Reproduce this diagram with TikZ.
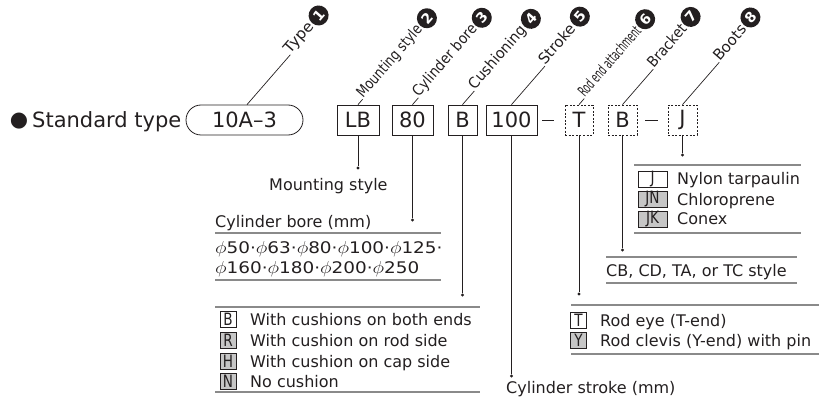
\documentclass[tikz,border=0pt]{standalone}
\usepackage{fontspec}
\setmainfont{DejaVu Sans}
\usepackage{graphicx}
\usetikzlibrary{calc}

\definecolor{ink}{HTML}{231F20}
\definecolor{rulegray}{HTML}{8A8A8A}
\definecolor{optfill}{HTML}{C6C6C6}

\tikzset{
  code/.style={draw=ink, line width=0.8pt, minimum height=30pt, inner sep=0,
               font=\fontsize{21}{21}\selectfont, text=ink},
  codeopt/.style={code, dash pattern=on 2pt off 1.6pt},
  leader/.style={draw=ink, line width=0.7pt},
  seprule/.style={draw=rulegray, line width=1.3pt},
  dot/.style={circle, fill=ink, inner sep=0, minimum size=3.4pt},
  desc/.style={font=\fontsize{16}{16}\selectfont, text=ink, inner sep=0},
  tag/.style={font=\fontsize{15}{15}\selectfont, text=ink, inner sep=0.6pt},
  num/.style={circle, fill=ink, text=white, inner sep=0, minimum size=20pt,
              font=\fontsize{14}{14}\selectfont\bfseries},
  key/.style={draw=ink, line width=0.6pt, inner sep=0, minimum height=16pt,
              minimum width=16pt, font=\fontsize{17}{17}\selectfont, text=ink},
  keyopt/.style={key, fill=optfill},
}

% condensed letters inside the small option keys
\newcommand\keytext[1]{\scalebox{0.8}[1]{#1}}

% slanted call-out: leader from a code box, rotated caption, numbered disc
% #1 start, #2 leader length, #3 caption, #4 number, #5 name, #6 caption width factor
\newcommand\callout[6]{%
  \path (#1) ++(49:#2) coordinate (#5-s);
  \draw[leader] (#1) -- (#5-s);
  \node[tag, rotate=49, anchor=base west] (#5-t) at (#5-s) {\scalebox{#6}[1]{#3}};
  \node[num, rotate=49, anchor=west] (#5-n) at ([yshift=0.8pt]#5-t.east) {#4};
}

\begin{document}
\begin{tikzpicture}[x=1pt, y=-1pt]
\useasboundingbox (0,0) rectangle (828,401);

% heading
\node[inner sep=0, font=\fontsize{21}{21}\selectfont, text=ink] (bul) at (19,121.5) {●};
\node[inner sep=0, anchor=base west, font=\fontsize{21}{21}\selectfont, text=ink] (head) at (32,128) {Standard type};

% model code
\node[code, rounded corners=15pt, minimum width=117pt] (type) at (244.5,120) {10A–3};
\node[code, minimum width=42pt] (mount) at (358,120) {LB};
\node[code, minimum width=41pt] (bore) at (412.5,120) {80};
\node[code, minimum width=29pt] (cush) at (462.5,120) {B};
\node[code, minimum width=51pt] (strk) at (511.5,120) {100};
\node[codeopt, minimum width=28pt] (rodend) at (579,120) {T};
\node[codeopt, minimum width=29pt] (brkt) at (622.5,120) {B};
\node[codeopt, minimum width=29pt] (boots) at (682.5,120) {J};

% hyphens between the groups
\draw[ink, line width=0.9pt] (542,120) -- (554,120);
\draw[ink, line width=0.9pt] (645,120) -- (658,120);

% call-outs above the code
\callout{[xshift=2.5pt]type.north}{66pt}{Type}{1}{c1}{1.04}
\callout{mount.north}{7pt}{Mounting style}{2}{c2}{0.82}
\callout{bore.north}{9pt}{Cylinder bore}{3}{c3}{0.89}
\callout{cush.north}{18pt}{Cushioning}{4}{c4}{0.95}
\callout{strk.north}{51pt}{Stroke}{5}{c5}{1.0}
\callout{rodend.north}{8pt}{Rod end attachment}{6}{c6}{0.57}
\callout{brkt.north}{47pt}{Bracket}{7}{c7}{0.9}
\callout{boots.north}{56pt}{Boots}{8}{c8}{0.99}

% mounting style
\node[dot] (d2) at (mount |- 0,168) {};
\draw[leader] (mount) -- (d2);
\node[desc, anchor=base west] (t2) at (269,190) {Mounting style};

% cylinder bore
\node[dot] (d3) at (bore |- 0,220) {};
\draw[leader] (bore) -- (d3);
\node[desc, anchor=base west] (t3) at (215,227) {Cylinder bore (mm)};
\draw[seprule] (215,233) -- (441,233);
\node[desc, anchor=base west] (b1) at (215,254) {\scalebox{1.15}[1]{$\phi$50·$\phi$63·$\phi$80·$\phi$100·$\phi$125·}};
\node[desc, anchor=base west] (b2) at (215,273) {\scalebox{1.15}[1]{$\phi$160·$\phi$180·$\phi$200·$\phi$250}};
\draw[seprule] (215,280) -- (441,280);

% cushioning
\node[dot] (d4) at (cush |- 0,295) {};
\draw[leader] (cush) -- (d4);
\draw[seprule] (215,307) -- (480,307);
\node[key] (kB) at (228,319) {\keytext{B}};
\node[desc, anchor=base west] at (250,325) {With cushions on both ends};
\node[keyopt] (kR) at (228,340) {\keytext{R}};
\node[desc, anchor=base west] at (250,346) {With cushion on rod side};
\node[keyopt] (kH) at (228,361) {\keytext{H}};
\node[desc, anchor=base west] at (250,367) {With cushion on cap side};
\node[keyopt] (kN) at (228,381) {\keytext{N}};
\node[desc, anchor=base west] at (250,387) {No cushion};
\draw[seprule] (215,392) -- (480,392);

% stroke
\node[dot] (d5) at (strk |- 0,376) {};
\draw[leader] (strk) -- (d5);
\node[desc, anchor=base west] (t5) at (506,393) {Cylinder stroke (mm)};

% rod end attachment
\node[dot] (d6) at (rodend |- 0,294) {};
\draw[leader] (rodend) -- (d6);
\draw[seprule] (571,305) -- (819,305);
\node[key] (kT) at (578.5,320) {\keytext{T}};
\node[desc, anchor=base west] at (600,326) {Rod eye (T-end)};
\node[keyopt] (kY) at (578.5,340) {\keytext{Y}};
\node[desc, anchor=base west] at (600,346) {Rod clevis (Y-end) with pin};
\draw[seprule] (571,354) -- (819,354);

% bracket
\node[dot] (d7) at (brkt |- 0,250) {};
\draw[leader] (brkt) -- (d7);
\draw[seprule] (606,257) -- (797,257);
\node[desc, anchor=base west] (t7) at (606,276) {CB, CD, TA, or TC style};
\draw[seprule] (606,283) -- (797,283);

% boots
\node[dot] (d8) at (boots |- 0,155) {};
\draw[leader] (boots) -- (d8);
\draw[seprule] (634,165) -- (801,165);
\node[key, minimum width=29pt] (kJ) at (652.5,179) {\keytext{J}};
\node[desc, anchor=base west] at (677,185) {Nylon tarpaulin};
\node[keyopt, minimum width=29pt] (kJN) at (652.5,199) {\keytext{JN}};
\node[desc, anchor=base west] at (677,205) {Chloroprene};
\node[keyopt, minimum width=29pt] (kJK) at (652.5,219) {\keytext{JK}};
\node[desc, anchor=base west] at (677,225) {Conex};
\draw[seprule] (634,233) -- (801,233);
\end{tikzpicture}
\end{document}
